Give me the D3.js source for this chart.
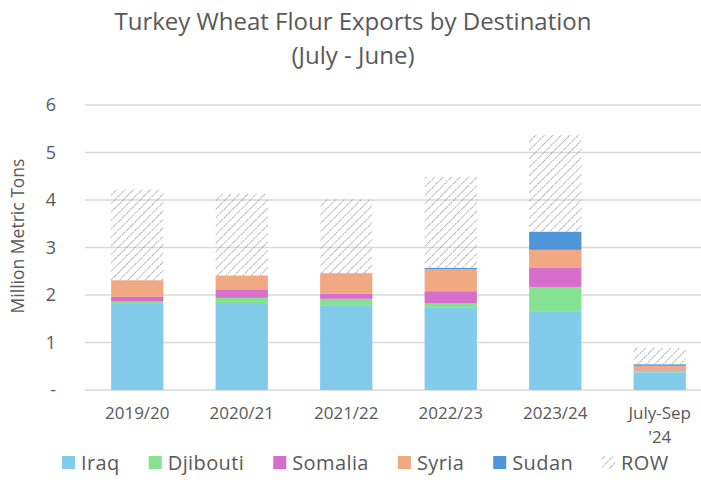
<!doctype html>
<html lang="en">
<head>
    <meta charset="utf-8">
    <title>Turkey Wheat Flour Exports</title>
    <script src="https://d3js.org/d3.v7.min.js"></script>
    <style>
        body { margin: 0; padding: 0; background: #fff; }
        svg { display: block; font-family: 'Open Sans', sans-serif; }
        .title { fill: #595959; font-size: 24px; }
        .tick-label { fill: #595959; font-size: 18px; }
        .cat-label { fill: #595959; font-size: 17px; }
        .axis-title { fill: #595959; font-size: 17.5px; }
        .legend-label { fill: #595959; font-size: 20px; letter-spacing: 0.4px; }
    </style>
</head>
<body>
    <div class="home"></div>
    <script>
        // data (million metric tons)
        const years = ["2019/20", "2020/21", "2021/22", "2022/23", "2023/24", "July-Sep\n'24"];
        const seriesNames = ["Iraq", "Djibouti", "Somalia", "Syria", "Sudan", "ROW"];
        const iraq     = [1.83, 1.83, 1.77, 1.73, 1.66, 0.37];
        const djibouti = [0.03, 0.11, 0.15, 0.09, 0.51, 0.04];
        const somalia  = [0.10, 0.18, 0.11, 0.26, 0.40, 0.01];
        const syria    = [0.35, 0.29, 0.43, 0.46, 0.38, 0.09];
        const sudan    = [0.00, 0.00, 0.00, 0.03, 0.38, 0.03];
        const row      = [1.91, 1.72, 1.56, 1.92, 2.04, 0.35];
        const yTicks = [0, 1, 2, 3, 4, 5, 6];

        const colors = ["#83cbeb", "#84e291", "#d86ecc", "#f1a983", "#4e95d9", "url(#row-hatch)"];

        const width = 701, height = 493;
        const svg = d3.select(".home").append("svg")
            .attr("width", width)
            .attr("height", height);

        // hatch pattern for ROW
        const defs = svg.append("defs");
        const pat = defs.append("pattern")
            .attr("id", "row-hatch")
            .attr("patternUnits", "userSpaceOnUse")
            .attr("width", 6)
            .attr("height", 6)
            .attr("patternTransform", "rotate(45)");
        pat.append("line")
            .attr("x1", 0).attr("y1", 0).attr("x2", 0).attr("y2", 6)
            .style("stroke", "#9c9c9c")
            .style("stroke-width", 1.6)
            .style("stroke-dasharray", "2.2,1");

        // title
        svg.append("text").attr("class", "title")
            .attr("x", 353).attr("y", 30)
            .attr("text-anchor", "middle")
            .text("Turkey Wheat Flour Exports by Destination");
        svg.append("text").attr("class", "title")
            .attr("x", 353).attr("y", 64)
            .attr("text-anchor", "middle")
            .text("(July - June)");

        // scales
        const x = d3.scaleBand().domain(years).range([85, 712]).paddingInner(0.5).paddingOuter(0.25);
        const y = d3.scaleLinear().domain([0, 6]).range([390, 105]);

        // gridlines
        svg.append("g").selectAll("line")
            .data(yTicks)
            .enter()
            .append("line")
            .attr("x1", 85).attr("x2", width)
            .attr("y1", d => y(d)).attr("y2", d => y(d))
            .style("stroke", "#d9d9d9")
            .style("stroke-width", 1.3);

        // y tick labels
        svg.append("g").selectAll("text")
            .data(yTicks)
            .enter()
            .append("text")
            .attr("class", "tick-label")
            .attr("x", 56)
            .attr("y", d => y(d) + 6)
            .attr("text-anchor", "end")
            .text(d => d === 0 ? "-" : d);

        // y axis title
        svg.append("text").attr("class", "axis-title")
            .attr("transform", "translate(24,236) rotate(-90)")
            .attr("text-anchor", "middle")
            .text("Million Metric Tons");

        // stacked bars
        const table = years.map((yr, i) => ({
            year: yr,
            Iraq: iraq[i], Djibouti: djibouti[i], Somalia: somalia[i],
            Syria: syria[i], Sudan: sudan[i], ROW: row[i]
        }));
        const stacked = d3.stack().keys(seriesNames)(table);

        svg.append("g").selectAll("g")
            .data(stacked)
            .enter()
            .append("g")
            .style("fill", (d, i) => colors[i])
            .selectAll("rect")
            .data(d => d)
            .enter()
            .append("rect")
            .attr("x", d => x(d.data.year))
            .attr("width", x.bandwidth())
            .attr("y", d => y(d[1]))
            .attr("height", d => y(d[0]) - y(d[1]));

        // category labels
        const cat = svg.append("g").selectAll("text")
            .data(years)
            .enter()
            .append("text")
            .attr("class", "cat-label")
            .attr("text-anchor", "middle")
            .attr("x", d => x(d) + x.bandwidth() / 2)
            .attr("y", 419);
        cat.each(function (d) {
            const parts = d.split("\n");
            const t = d3.select(this);
            parts.forEach((p, k) => {
                t.append("tspan")
                    .attr("x", x(d) + x.bandwidth() / 2)
                    .attr("dy", k === 0 ? 0 : 23.5)
                    .text(p);
            });
        });

        // legend
        const legend = svg.append("g");
        let lx = 62;
        seriesNames.forEach((name, i) => {
            const item = legend.append("g").attr("transform", `translate(${lx},0)`);
            item.append("rect")
                .attr("x", 0).attr("y", 456)
                .attr("width", 13).attr("height", 13)
                .style("fill", colors[i]);
            const t = item.append("text")
                .attr("class", "legend-label")
                .attr("x", 19).attr("y", 470)
                .text(name);
            lx += 19 + t.node().getComputedTextLength() + 29;
        });
    </script>
</body>
</html>
